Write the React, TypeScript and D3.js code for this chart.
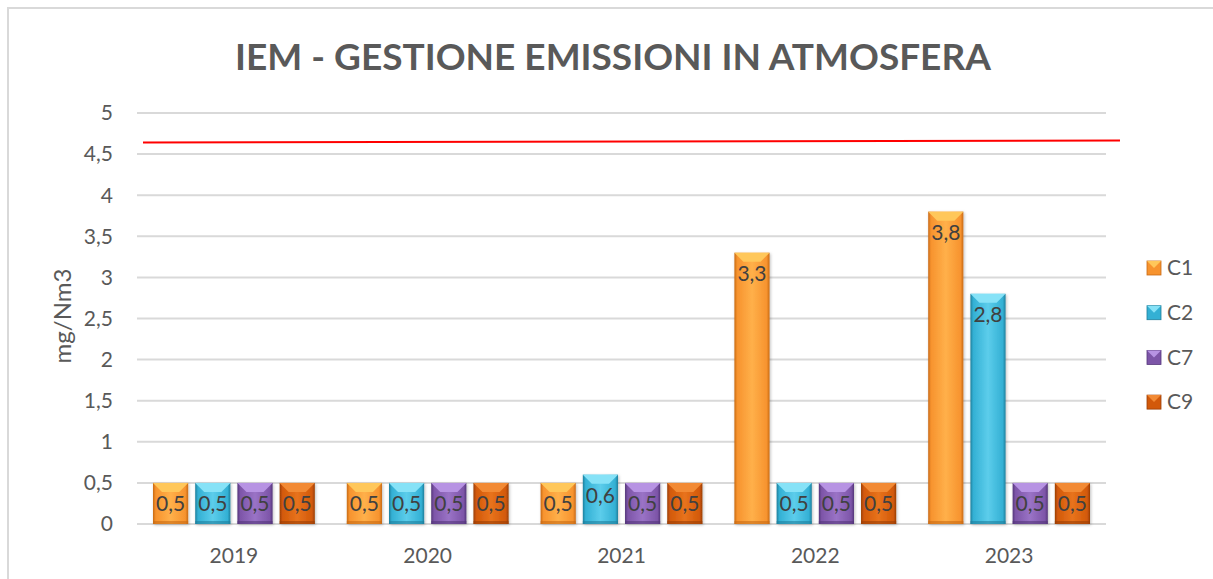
import React from 'react';
import * as d3 from 'd3';

const years = ['2019', '2020', '2021', '2022', '2023'];
const seriesNames = ['C1', 'C2', 'C7', 'C9'];
const c1 = [0.5, 0.5, 0.5, 3.3, 3.8];
const c2 = [0.5, 0.5, 0.6, 0.5, 2.8];
const c7 = [0.5, 0.5, 0.5, 0.5, 0.5];
const c9 = [0.5, 0.5, 0.5, 0.5, 0.5];
const yTicks = [0, 0.5, 1, 1.5, 2, 2.5, 3, 3.5, 4, 4.5, 5];
// limit line, slightly tilted as in the original (start, end)
const limitValues = [4.64, 4.665];

const seriesValues = [c1, c2, c7, c9];

// [main, light, dark, bevel-top]
const palette: Record<string, string[]> = {
  C1: ['#F7932E', '#FFB04A', '#C86A14', '#FFC75A'],
  C2: ['#33B0D4', '#5CCDEB', '#1E7F9C', '#86E2F7'],
  C7: ['#7D55A8', '#9A73C6', '#54357A', '#B793E3'],
  C9: ['#D2590A', '#E8731C', '#9A3E05', '#F28A34'],
};

const W = 1213;
const H = 579;
const font = 'Lato, "Open Sans", sans-serif';

export default function App() {
  const x = d3.scaleBand<string>().domain(years).range([137, 1106]).padding(0);
  const inner = d3
    .scaleBand<string>()
    .domain(seriesNames)
    .range([16, x.bandwidth() - 16])
    .paddingInner(0.167)
    .paddingOuter(0);
  const y = d3.scaleLinear().domain([0, 5]).range([524, 113]);

  const bw = inner.bandwidth();
  const fmt = (v: number) => v.toFixed(1).replace('.', ',');

  return (
    <svg width={W} height={H} style={{ position: 'absolute', left: 0, top: 0, background: '#fff' }}>
      <defs>
        {seriesNames.map((s) => (
          <linearGradient key={s} id={`g-${s}`} x1="0" x2="1" y1="0" y2="0">
            <stop offset="0" stopColor={palette[s][2]} />
            <stop offset="0.08" stopColor={palette[s][0]} />
            <stop offset="0.5" stopColor={palette[s][1]} />
            <stop offset="0.92" stopColor={palette[s][0]} />
            <stop offset="1" stopColor={palette[s][2]} />
          </linearGradient>
        ))}
        <filter id="shadow" x="-20%" y="-20%" width="140%" height="140%">
          <feDropShadow dx="1" dy="1" stdDeviation="1.5" floodColor="#000" floodOpacity="0.25" />
        </filter>
      </defs>

      {/* chart frame */}
      <rect x={8} y={8} width={W + 20} height={H + 20} fill="#fff" stroke="#D9D9D9" strokeWidth={2} />

      <text
        x={613}
        y={70}
        textAnchor="middle"
        fontFamily={font}
        fontWeight={700}
        fontSize={37}
        fill="#595959"
      >
        IEM - GESTIONE EMISSIONI IN ATMOSFERA
      </text>

      {/* gridlines */}
      {yTicks.map((t) => (
        <line
          key={t}
          x1={137}
          x2={1106}
          y1={y(t)}
          y2={y(t)}
          stroke="#D9D9D9"
          strokeWidth={2}
        />
      ))}
      {yTicks.map((t) => (
        <text
          key={'l' + t}
          x={113}
          y={y(t)}
          dy="0.35em"
          textAnchor="end"
          fontFamily={font}
          fontSize={21}
          fill="#595959"
        >
          {String(t).replace('.', ',')}
        </text>
      ))}

      <text
        transform={`translate(71, 316) rotate(-90)`}
        textAnchor="middle"
        fontFamily={font}
        fontSize={24}
        fill="#595959"
      >
        mg/Nm3
      </text>

      {/* bars */}
      {years.map((yr, i) => (
        <g key={yr} transform={`translate(${x(yr)},0)`}>
          {seriesNames.map((s, k) => {
            const v = seriesValues[k][i];
            const bx = inner(s) as number;
            const top = y(v);
            const bh = y(0) - top;
            const bev = 9;
            const c = palette[s];
            return (
              <g key={s}>
                <rect x={bx} y={top} width={bw} height={bh} fill={`url(#g-${s})`} filter="url(#shadow)" />
                <polygon
                  points={`${bx},${top} ${bx + bw},${top} ${bx + bw - bev},${top + bev} ${bx + bev},${top + bev}`}
                  fill={c[3]}
                />
                <rect x={bx} y={top + bh - 3} width={bw} height={3} fill={c[2]} opacity={0.6} />
                <text
                  x={bx + bw / 2}
                  y={top + Math.min(21, bh / 2)}
                  dy="0.35em"
                  textAnchor="middle"
                  fontFamily={font}
                  fontSize={21}
                  fill="#404040"
                >
                  {fmt(v)}
                </text>
              </g>
            );
          })}
        </g>
      ))}

      {/* x labels */}
      {years.map((yr) => (
        <text
          key={yr}
          x={(x(yr) as number) + x.bandwidth() / 2}
          y={556}
          dy="0.35em"
          textAnchor="middle"
          fontFamily={font}
          fontSize={21}
          fill="#595959"
        >
          {yr}
        </text>
      ))}

      {/* limit line */}
      <line
        x1={143}
        x2={1120}
        y1={y(limitValues[0])}
        y2={y(limitValues[1])}
        stroke="#FF0000"
        strokeWidth={2}
      />

      {/* legend */}
      {seriesNames.map((s, k) => {
        const ly = 268 + k * 44.7;
        const c = palette[s];
        return (
          <g key={s}>
            <rect x={1147} y={ly - 7} width={14} height={14} fill={c[0]} stroke={c[2]} strokeWidth={0.8} />
            <polygon points={`${1147},${ly - 7} ${1161},${ly - 7} ${1154},${ly}`} fill={c[3]} />
            <text x={1167} y={ly} dy="0.35em" fontFamily={font} fontSize={21} fill="#595959">
              {s}
            </text>
          </g>
        );
      })}
    </svg>
  );
}
